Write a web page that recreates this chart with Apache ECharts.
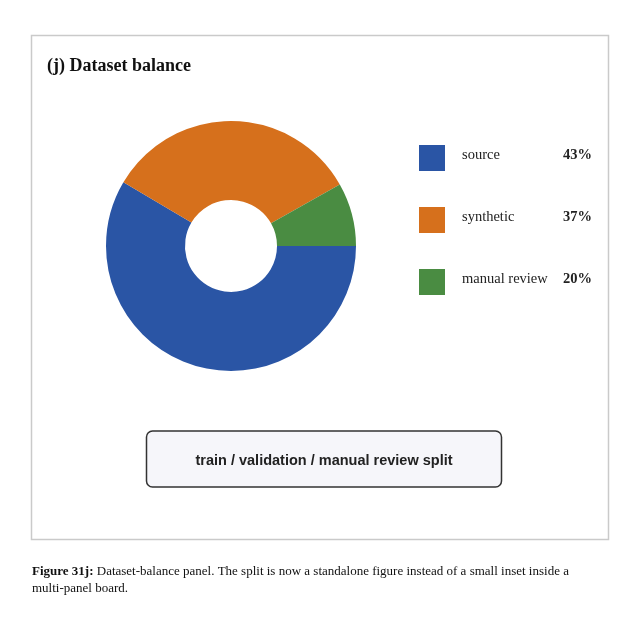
<!DOCTYPE html>
<html>
<head>
<meta charset="utf-8">
<script src="https://cdn.jsdelivr.net/npm/echarts@6/dist/echarts.min.js"></script>
<style>html,body{margin:0;padding:0;background:#fff;}#c{width:640px;height:640px;}</style>
</head>
<body>
<div id="c"></div>
<script>
// Data
const categories = ['source', 'synthetic', 'manual review'];
const sliceValues = [58.5, 33.3, 8.2];          // angular shares as drawn
const legendPercents = ['43%', '37%', '20%'];    // legend text as printed
const colors = ['#2a55a5', '#d6701c', '#4a8c42'];
const titleText = '(j) Dataset balance';
const buttonText = 'train / validation / manual review split';
const captionBold = 'Figure 31j:';
const captionLine1 = ' Dataset-balance panel. The split is now a standalone figure instead of a small inset inside a';
const captionLine2 = 'multi-panel board.';

const chart = echarts.init(document.getElementById('c'), null, {renderer: 'canvas'});
const pctMap = {};
categories.forEach((c, i) => pctMap[c] = legendPercents[i]);

chart.setOption({
  backgroundColor: '#ffffff',
  animation: false,
  color: colors,
  legend: {
    orient: 'vertical',
    left: 419,
    top: 145,
    padding: 0,
    itemWidth: 26,
    itemHeight: 26,
    itemGap: 36,
    icon: 'rect',
    selectedMode: false,
    data: categories,
    formatter: name => '{n|' + name + '}{p|' + pctMap[name] + '}',
    textStyle: {
      rich: {
        n: {fontFamily: 'Liberation Serif', fontSize: 14.5, color: '#222', width: 100, padding: [0, 0, 5, 12]},
        p: {fontFamily: 'Liberation Serif', fontSize: 14.5, fontWeight: 'bold', color: '#222', width: 30, align: 'right', padding: [0, 0, 5, 0]}
      }
    }
  },
  series: [{
    type: 'pie',
    center: [231, 246],
    radius: [46, 125],
    startAngle: 0,
    clockwise: true,
    label: {show: false},
    labelLine: {show: false},
    silent: true,
    itemStyle: {borderWidth: 0},
    data: categories.map((c, i) => ({name: c, value: sliceValues[i]}))
  }],
  graphic: [
    {type: 'rect', shape: {x: 31.5, y: 35.5, width: 577, height: 504}, style: {fill: 'none', stroke: '#cacaca', lineWidth: 1.5}, z: 0},
    {type: 'text', left: 47, top: 57, style: {text: titleText, font: 'bold 18px "Liberation Serif"', fill: '#111'}},
    {type: 'rect', shape: {x: 146.5, y: 431, width: 355, height: 56, r: 6}, style: {fill: '#f6f6fa', stroke: '#333', lineWidth: 1.5}},
    {type: 'text', x: 324, y: 461, style: {text: buttonText, font: 'bold 14.5px "Liberation Sans"', fill: '#222', align: 'center', verticalAlign: 'middle'}},
    {type: 'text', left: 32, top: 565, style: {
      text: '{b|' + captionBold + '}{r|' + captionLine1 + '}\n{r|' + captionLine2 + '}',
      rich: {
        b: {font: 'bold 13px "Liberation Serif"', fill: '#111', lineHeight: 17},
        r: {font: '13px "Liberation Serif"', fill: '#111', lineHeight: 17}
      }
    }}
  ]
});
</script>
</body>
</html>
